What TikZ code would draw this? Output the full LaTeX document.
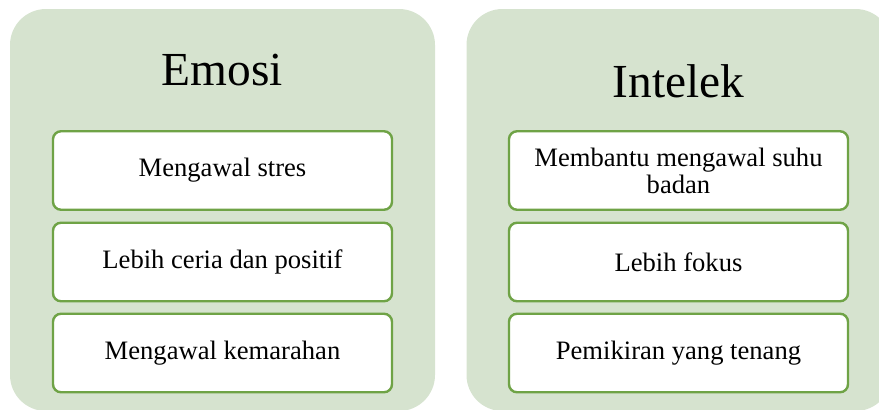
\documentclass[tikz,border=0pt]{standalone}
\usepackage{fontspec}
\setmainfont{Liberation Serif}
\definecolor{panelfill}{HTML}{D6E3CF}
\definecolor{boxline}{HTML}{6FA346}
\tikzset{
  panel/.style={draw=none, fill=panelfill, rounded corners=36pt, minimum width=425pt, minimum height=402pt, inner sep=0pt},
  titletext/.style={font=\fontsize{47.4}{50}\selectfont, inner sep=0pt, anchor=base},
  itembox/.style={draw=boxline, line width=2.4pt, fill=white, rounded corners=8pt, minimum width=339pt, minimum height=78.5pt, inner sep=0pt, align=center, font=\fontsize{26.6}{27}\selectfont}
}
\begin{document}
\begin{tikzpicture}[x=1pt,y=-1pt]
\useasboundingbox (0,0) rectangle (879,410);
\clip (0,0) rectangle (879,410);
\node[panel] (p1) at (222.5,210) {};
\node[panel] (p2) at (679,210) {};
\node[titletext] (t1) at (222.5,85) {Emosi};
\node[titletext] (t2) at (678.5,97) {Intelek};
\node[itembox] (a1) at (222.5,170.5) {Mengawal stres};
\node[itembox] (a2) at (222.5,262) {Lebih ceria dan positif};
\node[itembox] (a3) at (222.5,353) {Mengawal kemarahan};
\node[itembox] (b1) at (678.5,170.5) {Membantu mengawal suhu\\badan};
\node[itembox] (b2) at (678.5,262) {Lebih fokus};
\node[itembox] (b3) at (678.5,353) {Pemikiran yang tenang};
\end{tikzpicture}
\end{document}
